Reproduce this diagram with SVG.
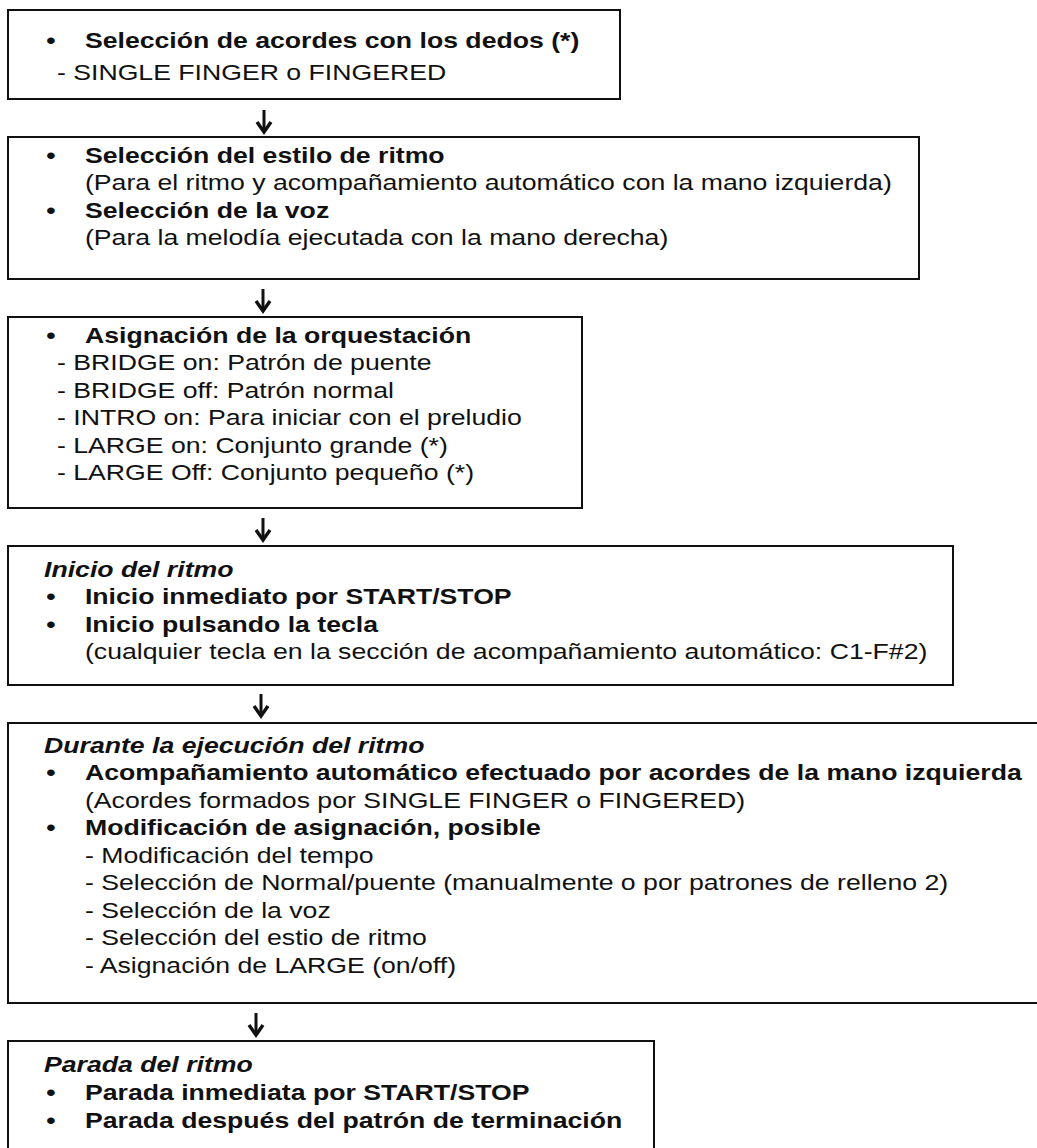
<svg xmlns="http://www.w3.org/2000/svg" width="1037" height="1148" viewBox="0 0 1037 1148">
<defs>
<style>
.box{fill:#fff;stroke:#111;stroke-width:2}
text{font-family:"Liberation Sans",Arial,Helvetica,sans-serif;font-size:22.2px;fill:#111}
.b{font-weight:bold}
.bi{font-weight:bold;font-style:italic}
.bul{text-anchor:middle;font-weight:bold}
.arrow{stroke:#111;stroke-width:3;fill:none}
</style>
<marker id="ah" markerUnits="userSpaceOnUse" markerWidth="18" markerHeight="18" viewBox="0 0 18 18" refX="12" refY="9" orient="auto">
<path d="M2,2 L12,9 L2,16" fill="none" stroke="#111" stroke-width="3.4"/>
</marker>
</defs>
<rect x="0" y="0" width="1037" height="1148" fill="#fff"/>

<g id="connectors">
<line class="arrow" x1="264" y1="110" x2="264" y2="132" marker-end="url(#ah)"/>
<line class="arrow" x1="263" y1="289" x2="263" y2="311" marker-end="url(#ah)"/>
<line class="arrow" x1="263" y1="518" x2="263" y2="540" marker-end="url(#ah)"/>
<line class="arrow" x1="261" y1="694" x2="261" y2="716" marker-end="url(#ah)"/>
<line class="arrow" x1="256" y1="1013" x2="256" y2="1035" marker-end="url(#ah)"/>
</g>

<g id="node1">
<rect class="box" x="8" y="10" width="612" height="89"/>
<g transform="scale(1.2,1)">
<text class="bul" x="42.5" y="48">•</text>
<text class="b" x="70.8" y="48">Selección de acordes con los dedos (*)</text>
<text x="47.5" y="80">- SINGLE FINGER o FINGERED</text>
</g>
</g>

<g id="node2">
<rect class="box" x="8" y="137" width="911" height="142"/>
<g transform="scale(1.2,1)">
<text class="bul" x="42.5" y="163">•</text>
<text class="b" x="70.8" y="163">Selección del estilo de ritmo</text>
<text x="70.8" y="190.5">(Para el ritmo y acompañamiento automático con la mano izquierda)</text>
<text class="bul" x="42.5" y="218">•</text>
<text class="b" x="70.8" y="218">Selección de la voz</text>
<text x="70.8" y="245.5">(Para la melodía ejecutada con la mano derecha)</text>
</g>
</g>

<g id="node3">
<rect class="box" x="8" y="317" width="574" height="191"/>
<g transform="scale(1.2,1)">
<text class="bul" x="42.5" y="343">•</text>
<text class="b" x="70.8" y="343">Asignación de la orquestación</text>
<text x="47.5" y="370.5">- BRIDGE on: Patrón de puente</text>
<text x="47.5" y="398">- BRIDGE off: Patrón normal</text>
<text x="47.5" y="425.5">- INTRO on: Para iniciar con el preludio</text>
<text x="47.5" y="453">- LARGE on: Conjunto grande (*)</text>
<text x="47.5" y="480.5">- LARGE Off: Conjunto pequeño (*)</text>
</g>
</g>

<g id="node4">
<rect class="box" x="8" y="546" width="945" height="139"/>
<g transform="scale(1.2,1)">
<text class="bi" x="36.7" y="577">Inicio del ritmo</text>
<text class="bul" x="42.5" y="604.5">•</text>
<text class="b" x="70.8" y="604.5">Inicio inmediato por START/STOP</text>
<text class="bul" x="42.5" y="632">•</text>
<text class="b" x="70.8" y="632">Inicio pulsando la tecla</text>
<text x="70.8" y="659.5">(cualquier tecla en la sección de acompañamiento automático: C1-F#2)</text>
</g>
</g>

<g id="node5">
<rect class="box" x="8" y="723" width="1045" height="280"/>
<g transform="scale(1.2,1)">
<text class="bi" x="36.7" y="753">Durante la ejecución del ritmo</text>
<text class="bul" x="42.5" y="780.5">•</text>
<text class="b" x="70.8" y="780.5">Acompañamiento automático efectuado por acordes de la mano izquierda</text>
<text x="70.8" y="808">(Acordes formados por SINGLE FINGER o FINGERED)</text>
<text class="bul" x="42.5" y="835.5">•</text>
<text class="b" x="70.8" y="835.5">Modificación de asignación, posible</text>
<text x="70.8" y="863">- Modificación del tempo</text>
<text x="70.8" y="890.5">- Selección de Normal/puente (manualmente o por patrones de relleno 2)</text>
<text x="70.8" y="918">- Selección de la voz</text>
<text x="70.8" y="945.5">- Selección del estio de ritmo</text>
<text x="70.8" y="973">- Asignación de LARGE (on/off)</text>
</g>
</g>

<g id="node6">
<rect class="box" x="8" y="1041" width="646" height="130"/>
<g transform="scale(1.2,1)">
<text class="bi" x="36.7" y="1072">Parada del ritmo</text>
<text class="bul" x="42.5" y="1100">•</text>
<text class="b" x="70.8" y="1100">Parada inmediata por START/STOP</text>
<text class="bul" x="42.5" y="1128">•</text>
<text class="b" x="70.8" y="1128">Parada después del patrón de terminación</text>
</g>
</g>
</svg>
